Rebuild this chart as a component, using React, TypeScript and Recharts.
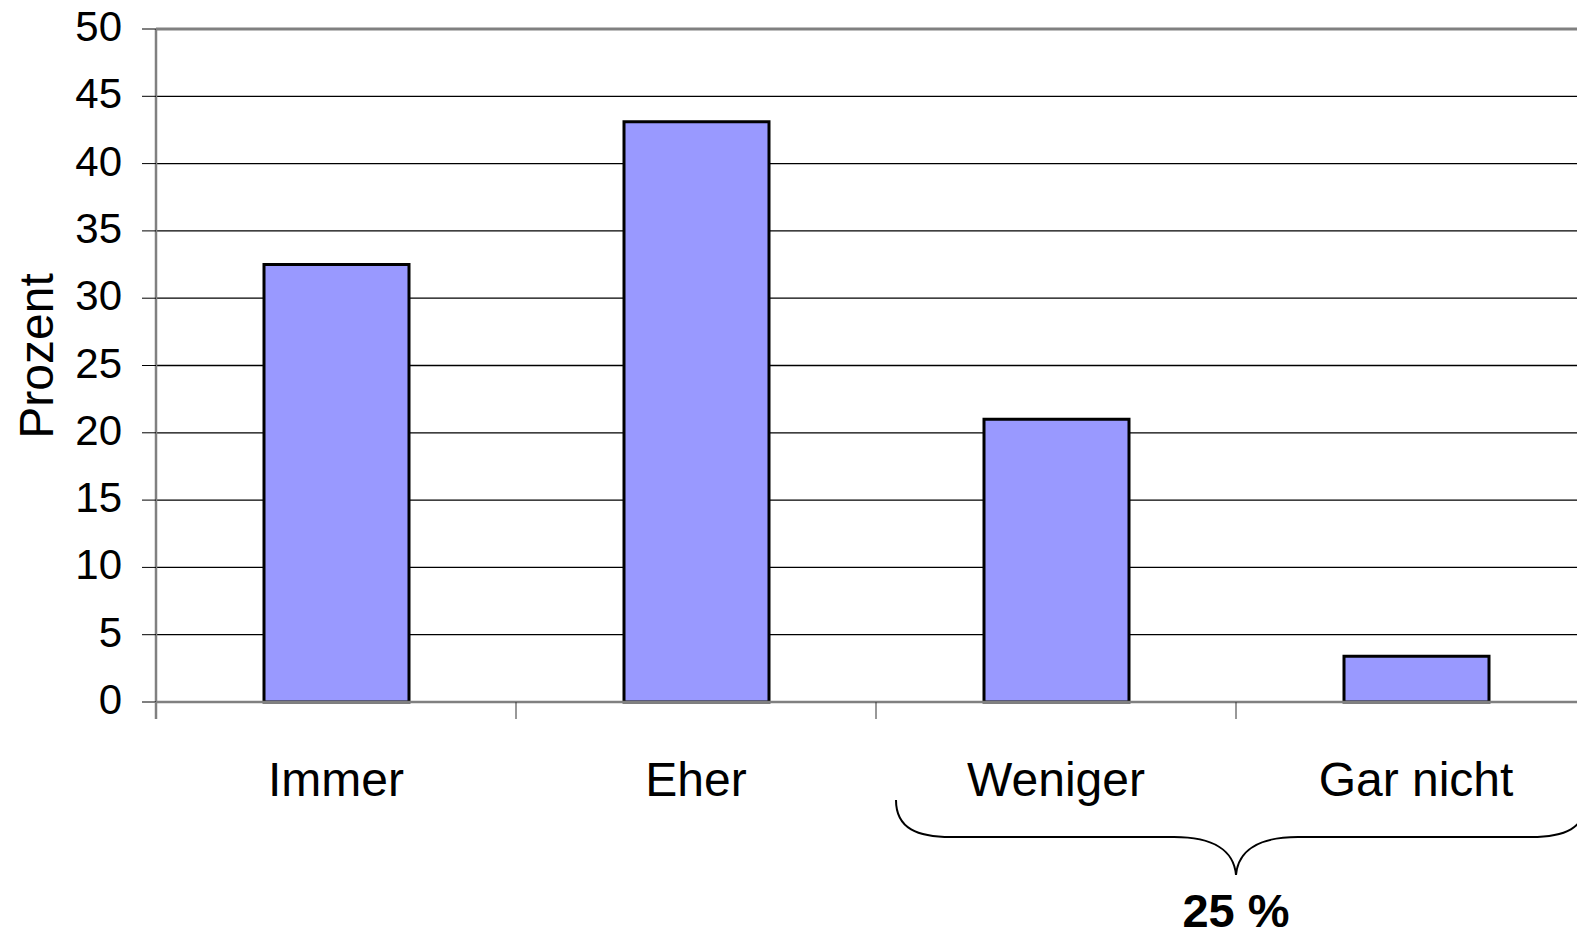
import { Bar, BarChart, CartesianGrid, ReferenceLine, XAxis, YAxis } from "recharts";

const categories = ["Immer", "Eher", "Weniger", "Gar nicht"];
const prozent = [32.5, 43.1, 21.0, 3.4];
const yTicks = [0, 5, 10, 15, 20, 25, 30, 35, 40, 45, 50];
const yLabel = "Prozent";
const braceLabel = "25 %";

const data = categories.map((name, i) => ({ name, prozent: prozent[i] }));

const FONT = '"Liberation Sans", Arial, sans-serif';
const WIDTH = 1620;
const HEIGHT = 936;
const PLOT_LEFT = 156;
const PLOT_TOP = 29;
const PLOT_BOTTOM = 702;
const PLOT_RIGHT = 1596;
const BAND = (PLOT_RIGHT - PLOT_LEFT) / categories.length;

function YTick({ x, y, payload }: any) {
  return (
    <text x={x} y={y} dy={12} textAnchor="end" fontSize={42} fontFamily={FONT} fill="#000">
      {payload.value}
    </text>
  );
}

function XTick({ x, payload, index }: any) {
  const bx = x - BAND / 2;
  return (
    <g>
      <line
        x1={bx}
        x2={bx}
        y1={PLOT_BOTTOM}
        y2={PLOT_BOTTOM + 17}
        stroke={index === 0 ? "#808080" : "#333"}
        strokeWidth={index === 0 ? 2.5 : 1}
      />
      <text x={x} y={PLOT_BOTTOM + 94} textAnchor="middle" fontSize={48} fontFamily={FONT} fill="#000">
        {payload.value}
      </text>
    </g>
  );
}

function Brace() {
  // spans the last two categories, centred on their shared boundary
  const cx = PLOT_LEFT + 3 * BAND;
  const l = cx - 340;
  const r = cx + 350;
  const top = 800;
  const mid = 837;
  const tip = 875;
  const d = [
    `M ${l} ${top}`,
    `C ${l} ${mid - 8} ${l + 22} ${mid} ${l + 55} ${mid}`,
    `L ${cx - 62} ${mid}`,
    `C ${cx - 22} ${mid} ${cx - 2} ${mid + 14} ${cx} ${tip}`,
    `C ${cx + 2} ${mid + 14} ${cx + 22} ${mid} ${cx + 62} ${mid}`,
    `L ${r - 55} ${mid}`,
    `C ${r - 22} ${mid} ${r} ${mid - 8} ${r} ${top}`,
  ].join(" ");
  return (
    <svg
      width={WIDTH}
      height={HEIGHT}
      style={{ position: "absolute", left: 0, top: 0, pointerEvents: "none" }}
    >
      <path d={d} fill="none" stroke="#000" strokeWidth={2} />
      <text x={cx} y={927} textAnchor="middle" fontSize={47} fontWeight="bold" fontFamily={FONT} fill="#000">
        {braceLabel}
      </text>
    </svg>
  );
}

export default function App() {
  return (
    <div
      style={{
        position: "fixed",
        left: 0,
        top: 0,
        width: 1577,
        height: HEIGHT,
        overflow: "hidden",
        background: "#fff",
      }}
    >
      <BarChart
        width={WIDTH}
        height={HEIGHT}
        data={data}
        margin={{ top: PLOT_TOP, right: WIDTH - PLOT_RIGHT, bottom: HEIGHT - PLOT_BOTTOM - 160, left: 0 }}
      >
        <CartesianGrid horizontal vertical={false} stroke="#000" strokeWidth={1.3} />
        <XAxis
          dataKey="name"
          height={160}
          axisLine={{ stroke: "#808080", strokeWidth: 2.5 }}
          tickLine={false}
          tick={<XTick />}
          interval={0}
        />
        <YAxis
          width={PLOT_LEFT}
          domain={[0, 50]}
          ticks={yTicks}
          interval={0}
          axisLine={{ stroke: "#808080", strokeWidth: 2.5 }}
          tickLine={{ stroke: "#000", strokeWidth: 1 }}
          tickSize={14}
          tickMargin={20}
          tick={<YTick />}
          label={{
            content: () => (
              <text
                x={36}
                y={356}
                transform="rotate(-90 36 356)"
                textAnchor="middle"
                dominantBaseline="central"
                fontSize={48}
                fontFamily={FONT}
                fill="#000"
              >
                {yLabel}
              </text>
            ),
          }}
        />
        <ReferenceLine y={50} stroke="#808080" strokeWidth={3} />
        <Bar
          dataKey="prozent"
          fill="#9999FF"
          stroke="#000"
          strokeWidth={3}
          barSize={145}
          isAnimationActive={false}
        />
      </BarChart>
      <Brace />
    </div>
  );
}
